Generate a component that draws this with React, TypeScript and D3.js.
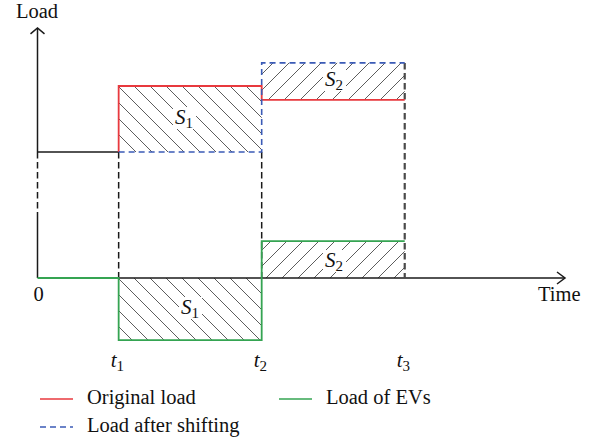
import React from "react";
import * as d3 from "d3";

// Time instants (x domain units)
const timeNames = ["t1", "t2", "t3"];
const timeValues = [0.8, 2.21, 3.62];
const timeMax = 5.2;

// Upper panel: total load levels
const baseLoad = 1;
const originalLoad = [1, 2, 1.79]; // before t1, t1..t2, t2..t3
const shiftedLoad = [1, 1, 2.35];
const upperAxisTop = 2.88;

// Lower panel: EV load levels
const evLoad = [0, -0.94, 0.56];

// Legend
const legendItems = [
  { label: "Original load", color: "#e8393e", dash: "" },
  { label: "Load of EVs", color: "#35a452", dash: "" },
  { label: "Load after shifting", color: "#3b5bb6", dash: "6,4" },
];

const W = 592;
const H = 440;
const FONT = "'Liberation Serif', 'Times New Roman', serif";

export default function App() {
  const x = d3.scaleLinear().domain([0, timeMax]).range([37.5, 565]);
  const yU = d3.scaleLinear().domain([0, 2.5]).range([218, 218 - 2.5 * 66]);
  const yL = d3.scaleLinear().domain([-1, 1]).range([278 + 66, 278 - 66]);

  const [t1, t2, t3] = timeValues.map((v) => x(v));
  const x0 = x(0);
  const xEnd = x(timeMax);

  const line = d3.line<[number, number]>();

  const redPath = line([
    [t1, yU(originalLoad[0])],
    [t1, yU(originalLoad[1])],
    [t2, yU(originalLoad[1])],
    [t2, yU(originalLoad[2])],
    [t3, yU(originalLoad[2])],
  ]);
  const bluePath = line([
    [t1, yU(shiftedLoad[0])],
    [t2, yU(shiftedLoad[1])],
    [t2, yU(shiftedLoad[2])],
    [t3, yU(shiftedLoad[2])],
  ]);
  const greenPath = line([
    [x0, yL(evLoad[0])],
    [t1, yL(evLoad[0])],
    [t1, yL(evLoad[1])],
    [t2, yL(evLoad[1])],
    [t2, yL(evLoad[2])],
    [t3, yL(evLoad[2])],
  ]);

  const black = "#1a1a1a";
  const hatchColor = "#333";

  const sLabel = (xs: number, ys: number, sub: string, key: string) => (
    <g key={key}>
      <rect x={xs - 2} y={ys - 17} width={23} height={22} fill="#fff" />
      <text x={xs} y={ys} fontFamily={FONT} fontSize={21} fill="#111">
        <tspan fontStyle="italic">S</tspan>
        <tspan fontSize={15} dy={4}>{sub}</tspan>
      </text>
    </g>
  );

  return (
    <svg width={W} height={H} style={{ position: "absolute", left: 0, top: 0 }}>
      <defs>
        <pattern id="hatchBack" patternUnits="userSpaceOnUse" width={16} height={16}>
          <path d="M0,0 L16,16 M-4,12 L4,20 M12,-4 L20,4" stroke={hatchColor} strokeWidth={0.8} />
        </pattern>
        <pattern id="hatchFwd" patternUnits="userSpaceOnUse" width={16} height={16}>
          <path d="M0,16 L16,0 M-4,4 L4,-4 M12,20 L20,12" stroke={hatchColor} strokeWidth={0.8} />
        </pattern>
      </defs>
      <rect width={W} height={H} fill="#fff" />

      {/* hatched areas */}
      <rect x={t1} y={yU(originalLoad[1])} width={t2 - t1} height={yU(baseLoad) - yU(originalLoad[1])} fill="url(#hatchBack)" />
      <rect x={t2} y={yU(shiftedLoad[2])} width={t3 - t2} height={yU(originalLoad[2]) - yU(shiftedLoad[2])} fill="url(#hatchFwd)" />
      <rect x={t1} y={yL(0)} width={t2 - t1} height={yL(evLoad[1]) - yL(0)} fill="url(#hatchBack)" />
      <rect x={t2} y={yL(evLoad[2])} width={t3 - t2} height={yL(0) - yL(evLoad[2])} fill="url(#hatchFwd)" />

      {/* upper vertical axis */}
      <line x1={x0} x2={x0} y1={yU(baseLoad)} y2={yU(upperAxisTop)} stroke={black} strokeWidth={1.5} />
      <path d={`M${x0 - 7},${yU(upperAxisTop) + 6} L${x0},${yU(upperAxisTop)} L${x0 + 7},${yU(upperAxisTop) + 6}`} fill="none" stroke={black} strokeWidth={1.5} />
      <line x1={x0} x2={x0} y1={yU(baseLoad)} y2={yU(0)} stroke={black} strokeWidth={1.5} strokeDasharray="6.5,3.5" />
      {/* lower vertical axis */}
      <line x1={x0} x2={x0} y1={yU(0)} y2={yL(0)} stroke={black} strokeWidth={1.5} />
      {/* upper base line */}
      <line x1={x0} x2={t1} y1={yU(baseLoad)} y2={yU(baseLoad)} stroke={black} strokeWidth={1.5} />

      {/* lower time axis */}
      <line x1={t1} x2={xEnd} y1={yL(0)} y2={yL(0)} stroke={black} strokeWidth={1.5} />
      <path d={`M${xEnd - 8},${yL(0) - 6} L${xEnd},${yL(0)} L${xEnd - 8},${yL(0) + 6}`} fill="none" stroke={black} strokeWidth={1.5} />

      {/* vertical dashed guides */}
      <line x1={t1} x2={t1} y1={yU(baseLoad)} y2={yL(0)} stroke={black} strokeWidth={1.5} strokeDasharray="6.5,3.5" />
      <line x1={t2} x2={t2} y1={yU(baseLoad)} y2={yL(0)} stroke={black} strokeWidth={1.5} strokeDasharray="6.5,3.5" />
      <line x1={t3} x2={t3} y1={yU(shiftedLoad[2])} y2={yL(0)} stroke="#4a4a4a" strokeWidth={2.2} strokeDasharray="6.5,3.5" />

      {/* series */}
      <path d={redPath ?? ""} fill="none" stroke="#e8393e" strokeWidth={1.8} />
      <path d={bluePath ?? ""} fill="none" stroke="#3b5bb6" strokeWidth={1.6} strokeDasharray="6,4" />
      <path d={greenPath ?? ""} fill="none" stroke="#35a452" strokeWidth={1.8} />

      {/* area labels */}
      {sLabel(175, 124, "1", "u1")}
      {sLabel(325, 86, "2", "u2")}
      {sLabel(181, 314, "1", "l1")}
      {sLabel(325, 267, "2", "l2")}

      {/* axis labels */}
      <text x={16} y={18} fontFamily={FONT} fontSize={20.5} fill="#111">Load</text>
      <text x={538} y={301} fontFamily={FONT} fontSize={20.5} fill="#111">Time</text>
      <text x={x0 + 1} y={301} fontFamily={FONT} fontSize={20.5} fill="#111" textAnchor="middle">0</text>

      {timeNames.map((n, i) => (
        <text key={n} x={x(timeValues[i]) - 8} y={367} fontFamily={FONT} fontSize={21} fill="#111">
          <tspan fontStyle="italic">t</tspan>
          <tspan fontSize={15} dy={4}>{n.slice(1)}</tspan>
        </text>
      ))}

      {/* legend */}
      {legendItems.map((it, i) => {
        const lx = i === 1 ? 279 : 40;
        const ly = i === 2 ? 427 : 399;
        return (
          <g key={it.label}>
            <line x1={lx} x2={lx + 33} y1={ly} y2={ly} stroke={it.color} strokeWidth={1.6} strokeDasharray={it.dash || undefined} />
            <text x={lx + 47} y={ly + 5} fontFamily={FONT} fontSize={20.5} fill="#111">{it.label}</text>
          </g>
        );
      })}
    </svg>
  );
}
